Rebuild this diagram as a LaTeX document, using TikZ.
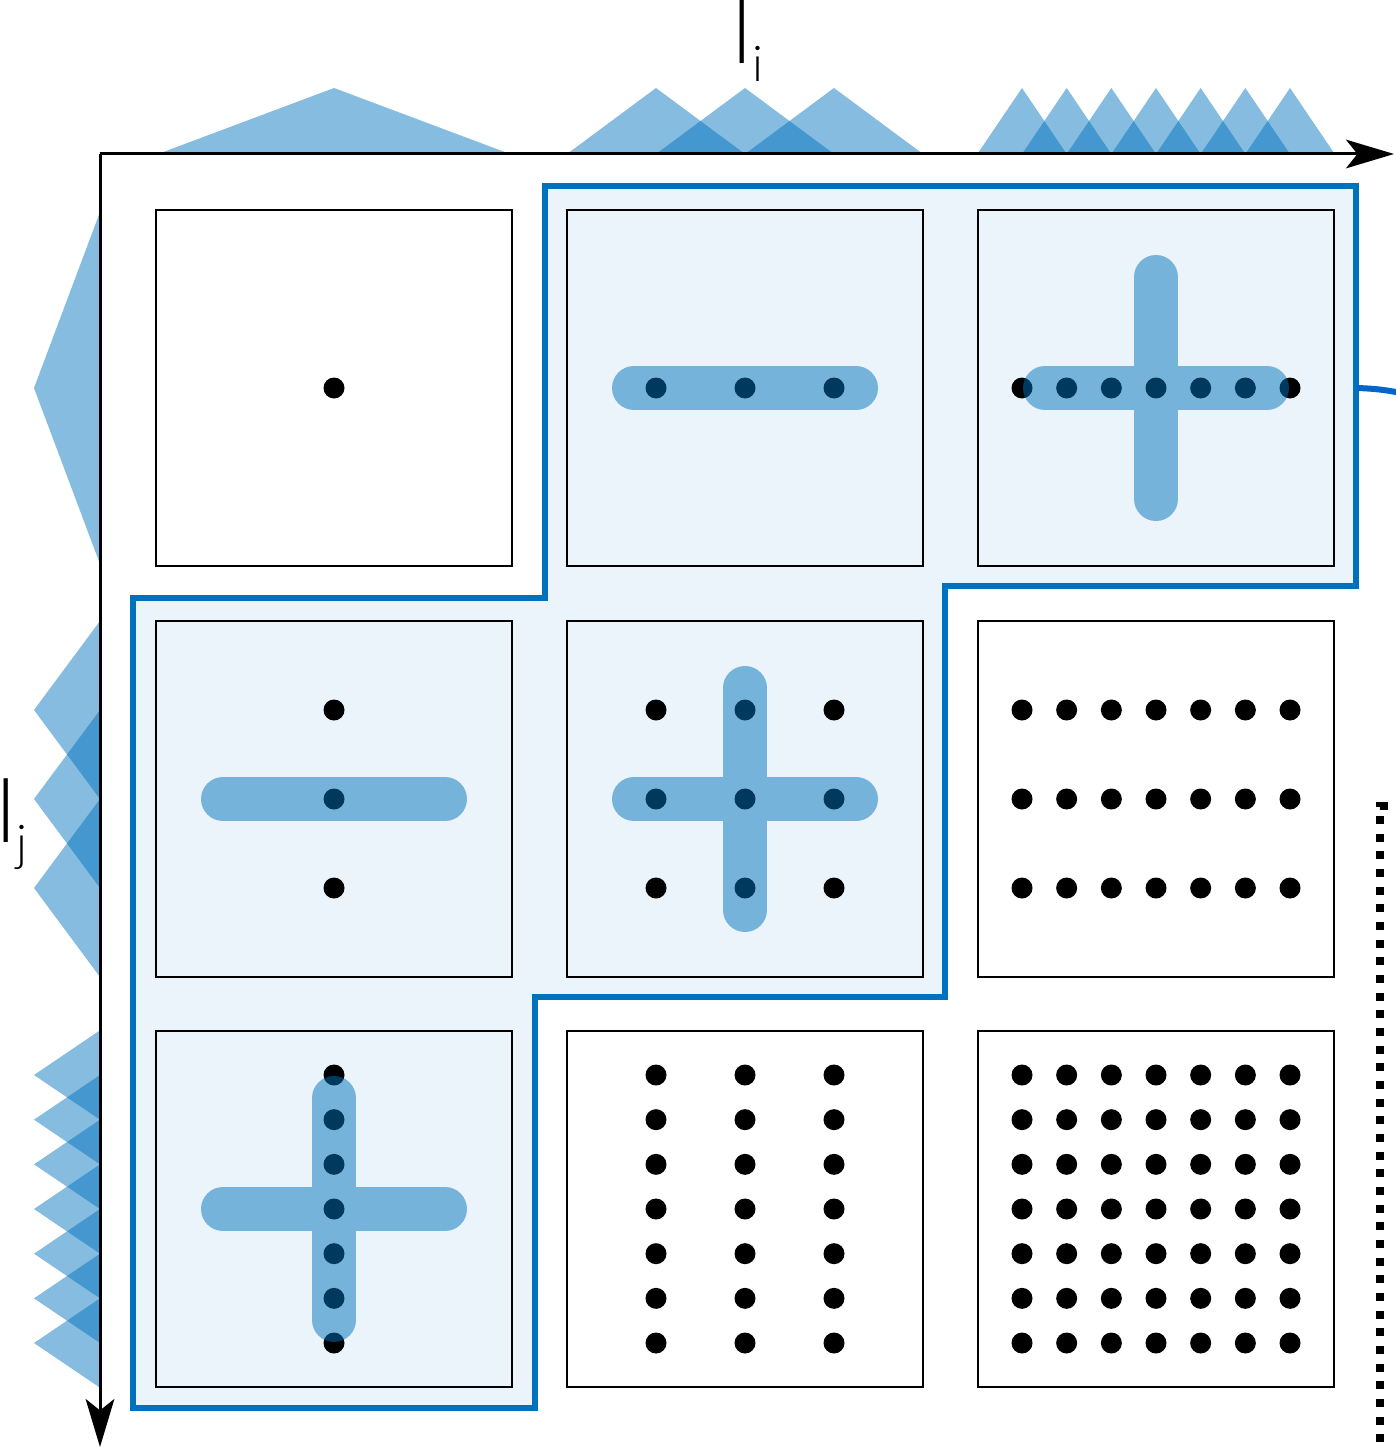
\documentclass[tikz,border=0pt]{standalone}
\usepackage{fontspec}
\setmainfont{Liberation Sans}
\newfontfamily\labfont{Lato Light}
\usetikzlibrary{arrows.meta}
\definecolor{mblue}{HTML}{0072BD}
\definecolor{cblue}{HTML}{0066CC}
\begin{document}
\begin{tikzpicture}[x=0.3pt,y=-0.3pt,
  tri/.style={fill=mblue,fill opacity=0.48},
  panel/.style={draw=black,line width=0.75pt},
  dotpt/.style={fill=black},
  bar/.style={draw=mblue,draw opacity=0.5,line width=13.2pt,line cap=round},
  region/.style={draw=mblue,line width=1.8pt,fill=mblue,fill opacity=0.08,draw opacity=1},
  axis/.style={draw=black,line width=0.9pt,-{Stealth[length=14.4pt,width=8.6pt,inset=3.4pt]}},
  lab/.style={font=\labfont\fontsize{26.3}{30}\selectfont,anchor=base west,inner sep=0pt}
]
\useasboundingbox (0,0) rectangle (1395,1448);
% highlighted region
\path[region] (545,186) -- (1356,186) -- (1356,586) -- (945,586) -- (945,997)
  -- (535,997) -- (535,1408) -- (133,1408) -- (133,598) -- (545,598) -- cycle;
% outgoing curve
\draw[cblue,line width=1.8pt] (1356,388) .. controls (1376,388.5) and (1390,390.5) .. (1405,394);
% dotted line
\draw[black,line width=2.4pt,dash pattern=on 2.4pt off 2.9pt] (1380,1460) -- (1380,806) -- (1400,806);
% panels
\foreach \px/\pcx in {156/0,567/1,978/2}{
  \foreach \py/\pcy in {210/0,621/1,1031/2}{
    \draw[panel] (\px,\py) rectangle ++(356,356);
  }
}
% dots
\foreach \cx/\nc/\sc in {334/1/176,745/3/89,1156/7/44.667}{
  \foreach \cy/\nr/\sr in {388/1/176,799/3/89,1209/7/44.667}{
    \foreach \i in {1,...,\nc}{
      \foreach \j in {1,...,\nr}{
        \fill[dotpt] ({\cx+(\i-(\nc+1)/2)*\sc},{\cy+(\j-(\nr+1)/2)*\sr}) circle[radius=3.15pt];
      }
    }
  }
}
% bars
\draw[bar] (634,388) -- (856,388);
\draw[bar] (1045,388) -- (1267,388) (1156,277) -- (1156,499);
\draw[bar] (223,799) -- (445,799);
\draw[bar] (634,799) -- (856,799) (745,688) -- (745,910);
\draw[bar] (223,1209) -- (445,1209) (334,1098) -- (334,1320);
% top triangles
\foreach \cx/\n/\s in {334/1/176,745/3/89,1156/7/44.667}{
  \foreach \k in {1,...,\n}{
    \fill[tri] ({\cx+(\k-(\n+1)/2)*\s-\s},154) -- ({\cx+(\k-(\n+1)/2)*\s},88) -- ({\cx+(\k-(\n+1)/2)*\s+\s},154) -- cycle;
  }
}
% left triangles
\foreach \cy/\n/\s in {388/1/176,799/3/89,1209/7/44.667}{
  \foreach \k in {1,...,\n}{
    \fill[tri] (100,{\cy+(\k-(\n+1)/2)*\s-\s}) -- (34,{\cy+(\k-(\n+1)/2)*\s}) -- (100,{\cy+(\k-(\n+1)/2)*\s+\s}) -- cycle;
  }
}
% axes
\coordinate (o) at (100,154);
\coordinate (xend) at (1394,154);
\coordinate (yend) at (100,1447);
\draw[axis] (o) -- (xend);
\draw[axis] (o) -- (yend);
% labels
\node[lab] (li) at (732,64) {l\raisebox{-5.4pt}{\fontsize{14.8}{18}\selectfont i}};
\node[lab] (lj) at (-4,842) {l\raisebox{-5.4pt}{\fontsize{14.8}{18}\selectfont j}};
\end{tikzpicture}
\end{document}
